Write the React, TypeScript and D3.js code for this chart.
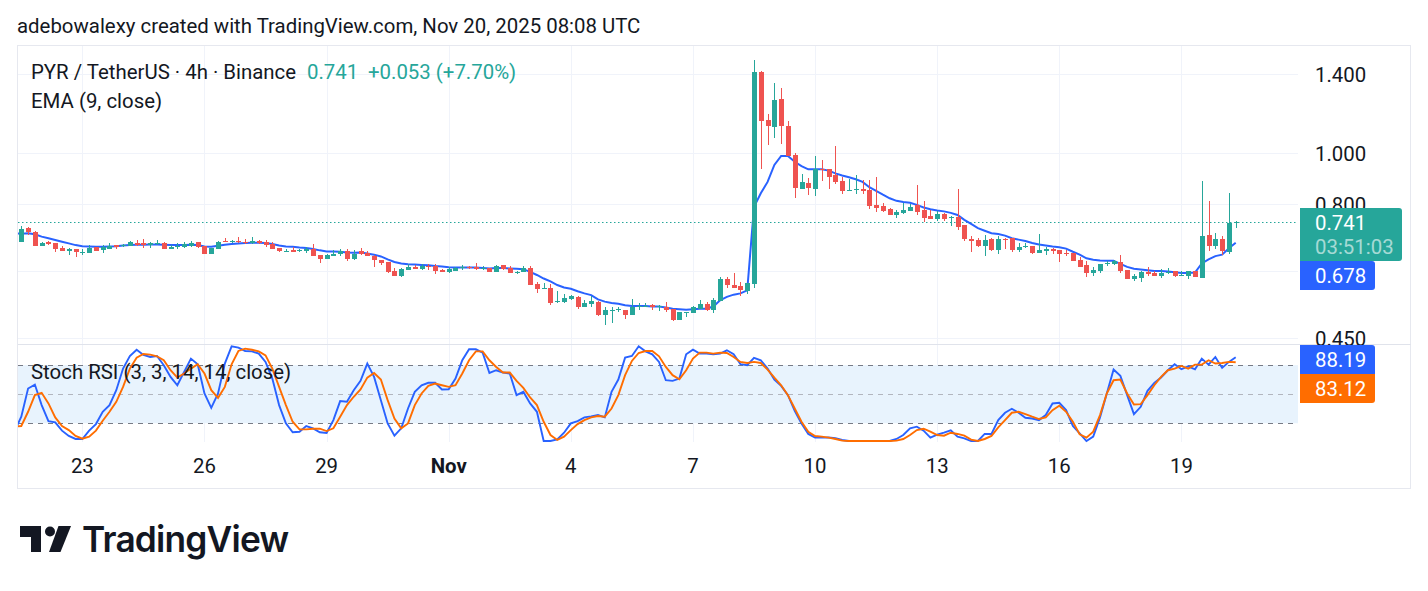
import React from "react";
import * as d3 from "d3";

const title = "adebowalexy created with TradingView.com, Nov 20, 2025 08:08 UTC";
const priceTicks = [1.4, 1.0, 0.8, 0.6, 0.45];
const priceLabels = ["1.400", "1.000", "0.800", "", "0.450"];
const timeTickIndex = [9, 27, 45, 63, 81, 99, 117, 135, 153, 171];
const timeTickLabels = ["23", "26", "29", "Nov", "4", "7", "10", "13", "16", "19"];
const stochLevels = [80, 50, 20];

// open, high, low, close per 4h candle
const candles: number[][] = [
[.680,.728,.680,.719],[.722,.725,.701,.710],[.710,.713,.668,.668],[.668,.680,.668,.677],[.680,.683,.671,.674],
[.677,.677,.652,.660],[.663,.668,.654,.654],[.654,.663,.643,.660],[.660,.660,.638,.652],[.649,.660,.643,.652],
[.649,.671,.649,.663],[.666,.666,.654,.654],[.657,.671,.649,.666],[.660,.677,.660,.668],[.671,.671,.660,.666],
[.668,.674,.666,.671],[.668,.683,.668,.680],[.677,.686,.668,.671],[.677,.689,.663,.671],[.671,.680,.663,.677],
[.674,.686,.671,.677],[.677,.680,.660,.660],[.660,.671,.660,.666],[.666,.677,.660,.668],[.666,.680,.663,.674],
[.668,.683,.666,.677],[.680,.680,.663,.666],[.668,.668,.646,.646],[.646,.663,.646,.663],[.660,.683,.660,.680],
[.683,.692,.680,.680],[.680,.686,.677,.683],[.683,.695,.677,.680],[.680,.689,.674,.677],[.677,.695,.674,.683],
[.683,.686,.674,.677],[.680,.686,.666,.671],[.674,.680,.660,.660],[.663,.663,.652,.654],[.652,.660,.652,.654],
[.657,.666,.652,.652],[.654,.660,.652,.657],[.654,.666,.649,.660],[.660,.674,.640,.640],[.643,.643,.621,.632],
[.632,.646,.632,.643],[.640,.657,.640,.646],[.646,.660,.640,.654],[.654,.660,.627,.632],[.632,.657,.629,.646],
[.654,.663,.643,.646],[.649,.654,.640,.640],[.640,.643,.611,.629],[.629,.629,.616,.621],[.624,.624,.595,.598],
[.600,.608,.588,.588],[.588,.608,.585,.606],[.603,.619,.603,.611],[.611,.616,.606,.606],[.606,.619,.603,.613],
[.613,.619,.603,.611],[.613,.619,.593,.600],[.603,.606,.598,.598],[.598,.611,.595,.606],[.600,.611,.600,.608],
[.608,.616,.603,.611],[.611,.613,.606,.608],[.611,.621,.603,.606],[.606,.613,.603,.608],[.608,.608,.598,.598],
[.598,.616,.598,.613],[.616,.616,.603,.606],[.608,.613,.595,.595],[.595,.600,.593,.598],[.598,.613,.598,.608],
[.608,.613,.565,.565],[.568,.573,.546,.556],[.556,.570,.556,.558],[.558,.568,.519,.524],[.526,.551,.524,.528],
[.526,.544,.524,.535],[.533,.542,.530,.539],[.537,.539,.510,.515],[.515,.530,.515,.524],[.521,.539,.515,.528],
[.526,.528,.495,.497],[.497,.515,.475,.508],[.506,.513,.479,.508],[.508,.513,.504,.510],[.508,.508,.489,.497],
[.497,.533,.497,.515],[.513,.524,.508,.517],[.515,.524,.513,.517],[.519,.521,.508,.513],[.515,.519,.506,.517],
[.515,.526,.504,.508],[.510,.510,.483,.485],[.485,.504,.485,.502],[.500,.504,.493,.502],[.500,.517,.500,.515],
[.510,.530,.510,.521],[.521,.526,.506,.508],[.508,.535,.500,.530],[.528,.585,.528,.580],[.580,.585,.558,.565],
[.565,.595,.558,.558],[.563,.573,.539,.553],[.551,.570,.544,.570],[.568,1.490,.558,1.415],[1.415,1.420,.932,1.146],
[1.150,1.181,1.033,1.121],[1.116,1.349,1.065,1.254],[1.259,1.321,1.037,1.121],[1.121,1.145,.985,.985],[.989,.998,.822,.858],
[.854,.912,.854,.881],[.877,.896,.833,.858],[.854,.985,.829,.932],[.932,.968,.885,.928],[.932,.932,.854,.900],
[.908,1.028,.873,.881],[.885,.900,.836,.847],[.847,.892,.847,.851],[.851,.908,.836,.854],[.854,.888,.836,.847],
[.851,.888,.784,.794],[.798,.900,.774,.788],[.794,.805,.774,.777],[.784,.788,.764,.764],[.764,.781,.754,.774],
[.771,.805,.767,.781],[.777,.801,.777,.791],[.798,.869,.764,.774],[.781,.812,.741,.754],[.761,.781,.751,.751],
[.751,.777,.744,.767],[.767,.771,.744,.751],[.754,.761,.728,.758],[.758,.854,.716,.725],[.731,.731,.683,.689],
[.689,.698,.652,.683],[.686,.692,.666,.668],[.668,.701,.640,.686],[.689,.692,.654,.657],[.657,.698,.646,.689],
[.689,.692,.660,.686],[.692,.692,.652,.657],[.657,.677,.652,.666],[.666,.677,.663,.668],[.668,.668,.646,.649],
[.649,.704,.649,.657],[.654,.666,.643,.660],[.660,.663,.646,.654],[.657,.657,.624,.646],[.649,.657,.640,.646],
[.649,.649,.627,.627],[.629,.638,.611,.611],[.616,.627,.585,.595],[.595,.611,.588,.603],[.600,.619,.595,.619],
[.619,.627,.613,.621],[.619,.629,.616,.627],[.624,.643,.595,.600],[.603,.603,.580,.580],[.580,.593,.575,.588],
[.583,.600,.573,.598],[.598,.611,.588,.593],[.595,.600,.588,.588],[.588,.606,.583,.595],[.595,.608,.593,.598],
[.600,.600,.585,.588],[.588,.600,.588,.590],[.588,.600,.580,.600],[.600,.600,.585,.585],[.583,.885,.583,.698],
[.701,.812,.654,.668],[.668,.707,.660,.689],[.689,.698,.643,.654],[.652,.840,.646,.738],[.738,.744,.722,.741],
];

// the three line series begin one candle before the first visible candle
const ema9 = [
.706,
.705,.706,.703,.696,.691,.686,.681,.676,.671,.668,
.667,.666,.666,.667,.668,.670,.671,.672,.672,.673,
.673,.672,.671,.671,.671,.672,.671,.667,.666,.669,
.672,.674,.676,.677,.678,.678,.677,.674,.670,.667,
.666,.664,.663,.660,.656,.653,.653,.652,.650,.649,
.650,.647,.644,.639,.631,.624,.620,.618,.617,.616,
.615,.613,.612,.610,.609,.609,.609,.609,.608,.607,
.608,.608,.607,.606,.605,.598,.590,.581,.574,.565,
.559,.556,.550,.545,.541,.531,.526,.523,.521,.518,
.516,.516,.516,.515,.515,.513,.510,.509,.508,.509,
.510,.510,.515,.529,.537,.542,.545,.552,.791,.839,
.881,.948,.985,.985,.961,.943,.930,.930,.930,.925,
.914,.906,.899,.891,.881,.861,.848,.834,.821,.812,
.808,.805,.798,.789,.783,.779,.776,.771,.764,.748,
.735,.722,.714,.706,.704,.699,.691,.687,.683,.677,
.673,.670,.667,.665,.661,.652,.644,.634,.630,.628,
.627,.627,.619,.611,.606,.604,.602,.600,.600,.599,
.597,.595,.595,.596,.620,.631,.640,.644,.662,.678,
];

const stochK = [
12,
26.8,55.9,60,38.8,22.3,20.9,12.4,6.9,3.8,3.8,
12.4,19.2,31.9,38.8,54.2,76.5,89.5,96,90.6,88.5,
89.5,80,67.9,59.3,73.1,86.8,81,50.8,36,50.8,
81.7,99.5,98.1,94.7,94.3,92,83.4,66.2,38.8,19.9,
10.7,11.3,17.2,14.8,10.7,10,23.3,42.9,42.2,54.2,
63.8,81.7,67.9,43.9,19.9,7.2,14.8,35.3,52.5,59.3,
61.8,61.8,54.9,55.2,66.2,85.1,96.4,96.4,93,72,
74.8,72.4,71.4,49.1,52.5,40.5,31.9,1.7,1.7,3.4,
10.3,19.9,22.3,26.1,27.1,28.5,26.1,52.5,65.2,87.8,
89.5,99.5,94.3,91.3,83.4,64.5,63.8,66.2,91.3,96,
92,92,91.3,92,95.4,91.3,81,80,87.5,85.1,
76.5,65.2,58.7,49.1,32.9,19.9,9,5.2,5.2,5.5,
4.5,2.8,1.7,1.7,1.7,1.7,1.7,1.7,1.7,3.8,
7.9,14.8,16.5,12.4,5.2,8.3,10.3,12.7,6.2,4.5,
1.7,1.7,9,9,23.3,30.9,35,30.9,25.7,25,
23.3,28.5,40.5,41.2,33.6,17.2,9.6,1.7,6.2,26.1,
50.8,75.5,69,49.1,29.5,37,53.5,61.8,67.2,74.8,
81,75.8,78.9,75.8,86.8,80.6,88.5,77.2,83.4,88.19,
];

const stochD = [
16.8,
17.2,31.9,49.1,51.5,40.5,26.1,17.2,13,6.9,4.1,
6.2,12.4,22.7,31.9,42.2,57.6,76.5,87.8,91.6,90.9,
89.2,85.1,74.8,67.2,71.4,76.5,81,71.4,54.2,46.3,
57.6,81,94.7,97.1,96,94.3,90.2,76.5,57.6,38.8,
21.6,13.7,13.7,14.4,14.4,12,14.8,26.8,38.8,47.4,
54.9,67.2,72,65.2,43.9,25,14.8,19.9,38.8,50.8,
58.7,61.1,59.3,57.6,59.3,71.4,85.1,94.3,94.3,85.1,
78.2,72.4,72.4,63.8,56.6,46.7,38.8,21.6,7.9,2.8,
6.2,13,19.2,23.3,26.1,27.5,26.8,35.3,49.1,69.7,
84.4,92.6,94.7,94.7,89.2,78.2,69.7,65.5,74.8,86.8,
93,93,92,93,92.6,88.5,83.4,82.3,83.4,82.3,
75.5,67.2,59.3,49.1,35.3,21.6,11.3,6.9,6.2,5.2,
3.8,2.1,1.7,1.7,1.7,1.7,1.7,1.7,1.7,2.1,
3.8,7.9,13,14.4,11.3,7.9,7.2,10.3,9,7.2,
3.1,1.7,3.8,6.9,15.8,23.3,30.9,31.9,29.5,26.8,
24.4,26.1,33.6,38.1,31.9,21.6,8.6,5.2,11.3,28.5,
50.8,64.5,65.2,50.8,39.5,39.8,49.1,59.3,67.9,74.8,
76.5,79.2,76.5,80.6,80.6,85.1,81.7,82.3,83.4,83.12,
];

const UP = "#26a69a";
const DOWN = "#ef5350";
const BLUE = "#2962FF";
const ORANGE = "#FF6D00";
const GRID = "#f0f3fa";
const TEXT = "#131722";
const FONT = "Roboto, sans-serif";
const PANE_R = 1298;
const FS = 20.4;

const x = d3.scaleLinear().domain([0, 179]).range([21.3, 1235.7]);
const y = d3.scaleLog().domain([1.0, 1.4]).range([152.5, 74.4]);
const yS = d3.scaleLinear().domain([20, 80]).range([423.3, 365.2]);

export default function App() {
  const emaPath = d3.line<number>().x((_, i) => x(i - 1)).y((d) => y(d))(ema9) || "";
  const stochLine = d3.line<number>().x((_, i) => x(i - 1)).y((d) => yS(d));
  const last = candles[candles.length - 1][3];

  return (
    <svg
      width={1428}
      height={591}
      viewBox="0 0 1428 591"
      style={{ position: "absolute", left: 0, top: 0, display: "block", background: "#fff" }}
      fontFamily={FONT}
    >
      <defs>
        <clipPath id="pane"><rect x={18} y={46} width={PANE_R - 18} height={442} /></clipPath>
      </defs>
      <text x={17} y={33} fontSize={FS} fill={TEXT}>{title}</text>

      <rect x={17.5} y={45.5} width={1393} height={443} fill="#fff" stroke="#e6e8ef" />

      {timeTickIndex.map((t) => (
        <line key={t} x1={Math.round(x(t)) + 0.5} x2={Math.round(x(t)) + 0.5} y1={46} y2={442} stroke={GRID} />
      ))}
      {priceTicks.map((p) => (
        <line key={p} x1={18} x2={PANE_R} y1={Math.round(y(p)) + 0.5} y2={Math.round(y(p)) + 0.5} stroke={GRID} />
      ))}
      <line x1={18} x2={1411} y1={344.5} y2={344.5} stroke="#e0e3eb" />

      {/* stochastic band */}
      <rect x={18} y={yS(80)} width={PANE_R - 18} height={yS(20) - yS(80)} fill="#e8f3fd" />
      {stochLevels.map((l) => (
        <line
          key={l}
          x1={18}
          x2={PANE_R}
          y1={Math.round(yS(l)) + 0.5}
          y2={Math.round(yS(l)) + 0.5}
          stroke={l === 50 ? "#b2b5be" : "#787b86"}
          strokeDasharray="5 5"
        />
      ))}

      {/* last price line */}
      <line x1={18} x2={PANE_R} y1={Math.round(y(last)) + 0.5} y2={Math.round(y(last)) + 0.5} stroke={UP} strokeDasharray="1.5 2.5" />

      <g clipPath="url(#pane)">
        <path d={emaPath} fill="none" stroke={BLUE} strokeWidth={2} />

        <g shapeRendering="crispEdges">
          {candles.map(([o, h, l, c], i) => {
            const col = c >= o ? UP : DOWN;
            const cx = Math.round(x(i));
            const top = Math.round(y(Math.max(o, c)));
            const bot = Math.round(y(Math.min(o, c)));
            return (
              <g key={i} fill={col}>
                <rect x={cx} y={Math.round(y(h))} width={1} height={Math.max(1, Math.round(y(l)) - Math.round(y(h)))} />
                <rect x={cx - 2} y={top} width={5} height={Math.max(1, bot - top)} />
              </g>
            );
          })}
        </g>

        <path d={stochLine(stochK) || ""} fill="none" stroke={BLUE} strokeWidth={1.9} />
        <path d={stochLine(stochD) || ""} fill="none" stroke={ORANGE} strokeWidth={1.9} />
      </g>

      {/* legends */}
      <text x={31} y={79} fontSize={FS} fill={TEXT}>PYR / TetherUS · 4h · Binance</text>
      <text x={307} y={79} fontSize={FS} fill={UP}>0.741</text>
      <text x={368} y={79} fontSize={FS} fill={UP}>+0.053 (+7.70%)</text>
      <text x={31} y={108} fontSize={FS} fill={TEXT}>EMA (9, close)</text>
      <text x={31} y={379} fontSize={FS} fill={TEXT}>Stoch RSI (3, 3, 14, 14, close)</text>

      {/* price axis labels */}
      {priceLabels.map((s, i) =>
        s ? (
          <text key={s} x={1315} y={y(priceTicks[i]) + 8} fontSize={FS} fill={TEXT}>{s}</text>
        ) : null
      )}

      {/* time axis labels */}
      {timeTickIndex.map((t, i) => (
        <text
          key={t}
          x={x(t)}
          y={473}
          fontSize={FS}
          textAnchor="middle"
          fill={TEXT}
          fontWeight={timeTickLabels[i] === "Nov" ? 700 : 400}
        >
          {timeTickLabels[i]}
        </text>
      ))}

      {/* price badges */}
      <path d="M1300 208H1399a3 3 0 0 1 3 3V258a3 3 0 0 1 -3 3H1300Z" fill={UP} />
      <text x={1315} y={230} fontSize={FS} fill="#fff">0.741</text>
      <text x={1315} y={254} fontSize={FS} fill="#fff" fillOpacity={0.6}>03:51:03</text>
      <path d="M1300 261H1372a3 3 0 0 1 3 3V287a3 3 0 0 1 -3 3H1300Z" fill={BLUE} />
      <text x={1315} y={283} fontSize={FS} fill="#fff">0.678</text>
      <path d="M1300 345H1372a3 3 0 0 1 3 3V374H1300Z" fill={BLUE} />
      <text x={1315} y={367} fontSize={FS} fill="#fff">88.19</text>
      <path d="M1300 374H1375V400a3 3 0 0 1 -3 3H1300Z" fill={ORANGE} />
      <text x={1315} y={396} fontSize={FS} fill="#fff">83.12</text>

      {/* TradingView logo */}
      <g fill="#131722">
        <path d="M20 526H41V552H31V537H20Z" />
        <circle cx={50} cy={531.5} r={5} />
        <path d="M58.5 526H71L60.5 552H49Z" />
        <text x={82} y={552} fontSize={35.3} fontWeight={600} fontFamily="Inter, Roboto, sans-serif" letterSpacing={-0.8}>TradingView</text>
      </g>
    </svg>
  );
}
